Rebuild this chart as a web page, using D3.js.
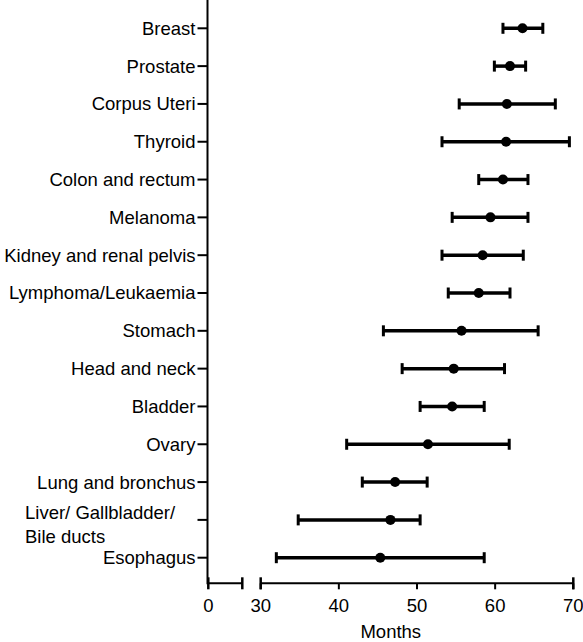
<!DOCTYPE html>
<html>
<head>
<meta charset="utf-8">
<script src="https://cdn.jsdelivr.net/npm/d3@7"></script>
<style>
  html, body { margin: 0; padding: 0; background: #fff; }
  svg { display: block; }
  text { font-family: "Liberation Sans", Arial, Helvetica, sans-serif; fill: #000; }
</style>
</head>
<body>
<svg id="chart" width="583" height="642"></svg>
<script>
// ---- Data ----
const categories = [
  "Breast", "Prostate", "Corpus Uteri", "Thyroid", "Colon and rectum",
  "Melanoma", "Kidney and renal pelvis", "Lymphoma/Leukaemia", "Stomach",
  "Head and neck", "Bladder", "Ovary", "Lung and bronchus",
  "Liver/ Gallbladder/\nBile ducts", "Esophagus"
];
const medians = [63.5, 61.9, 61.5, 61.4, 61.0, 59.4, 58.4, 57.9, 55.7, 54.7, 54.5, 51.4, 47.2, 46.6, 45.3];
const lowers  = [61.0, 59.9, 55.4, 53.2, 57.9, 54.5, 53.2, 54.0, 45.7, 48.1, 50.4, 41.0, 43.0, 34.8, 32.0];
const uppers  = [66.1, 63.9, 67.7, 69.5, 64.2, 64.2, 63.6, 61.9, 65.5, 61.2, 58.6, 61.8, 51.3, 50.4, 58.6];
const leftTicks = [0];
const mainTicks = [30, 40, 50, 60, 70];
const xTitle = "Months";

const rows = categories.map((c, i) => ({ cat: c, mid: medians[i], lo: lowers[i], hi: uppers[i] }));

const svg = d3.select("#chart");
const FS = 18.5;
const axisX = 207.5, axisY = 583.3;

// Scales: broken x-axis (0 segment + 30–70 segment)
const xLeft = d3.scaleLinear().domain([0, 27]).range([208.3, 242.3]);
const x = d3.scaleLinear().domain([30, 70]).range([260.7, 573.3]);
const y = d3.scalePoint().domain(categories).range([28.3, 557.7]);

// ---- Y axis ----
svg.append("line").attr("x1", axisX).attr("x2", axisX).attr("y1", 0).attr("y2", axisY + 1)
  .attr("stroke", "#000").attr("stroke-width", 2);

const yAxis = svg.append("g");
categories.forEach(c => {
  const yy = y(c);
  yAxis.append("line").attr("x1", axisX - 10).attr("x2", axisX).attr("y1", yy).attr("y2", yy)
    .attr("stroke", "#000").attr("stroke-width", 2);
  const parts = c.split("\n");
  if (parts.length === 1) {
    yAxis.append("text").attr("x", axisX - 12).attr("y", yy).attr("dy", "0.35em")
      .attr("text-anchor", "end").attr("font-size", FS).text(c);
  } else {
    const t = yAxis.append("text").attr("font-size", FS).attr("text-anchor", "start");
    parts.forEach((p, k) => {
      t.append("tspan").attr("x", 25).attr("y", yy - 1 + k * 24.5).text(p);
    });
  }
});

// ---- X axis (broken) ----
const xa = svg.append("g");
function seg(x1, x2) {
  xa.append("line").attr("x1", x1).attr("x2", x2).attr("y1", axisY).attr("y2", axisY)
    .attr("stroke", "#000").attr("stroke-width", 2);
  [x1, x2].forEach(xx => xa.append("line").attr("x1", xx).attr("x2", xx)
    .attr("y1", axisY - 6).attr("y2", axisY + 6).attr("stroke", "#000").attr("stroke-width", 2.5));
}
seg(xLeft.range()[0], xLeft.range()[1]);
seg(x.range()[0], x.range()[1]);

leftTicks.forEach(v => {
  xa.append("text").attr("x", xLeft(v)).attr("y", 612).attr("text-anchor", "middle")
    .attr("font-size", FS).text(v);
});
mainTicks.forEach(v => {
  xa.append("line").attr("x1", x(v)).attr("x2", x(v)).attr("y1", axisY).attr("y2", axisY + 6)
    .attr("stroke", "#000").attr("stroke-width", 2);
  xa.append("text").attr("x", x(v)).attr("y", 612).attr("text-anchor", "middle")
    .attr("font-size", FS).text(v);
});

svg.append("text").attr("x", (xLeft.range()[0] + x.range()[1]) / 2).attr("y", 638)
  .attr("text-anchor", "middle").attr("font-size", FS).text(xTitle);

// ---- Error bars and points ----
const g = svg.append("g");
rows.forEach(d => {
  const yy = y(d.cat);
  g.append("line").attr("x1", x(d.lo)).attr("x2", x(d.hi)).attr("y1", yy).attr("y2", yy)
    .attr("stroke", "#000").attr("stroke-width", 3.5);
  [d.lo, d.hi].forEach(v => g.append("line").attr("x1", x(v)).attr("x2", x(v))
    .attr("y1", yy - 5.5).attr("y2", yy + 5.5).attr("stroke", "#000").attr("stroke-width", 3));
  g.append("circle").attr("cx", x(d.mid)).attr("cy", yy).attr("r", 5).attr("fill", "#000");
});
</script>
</body>
</html>
